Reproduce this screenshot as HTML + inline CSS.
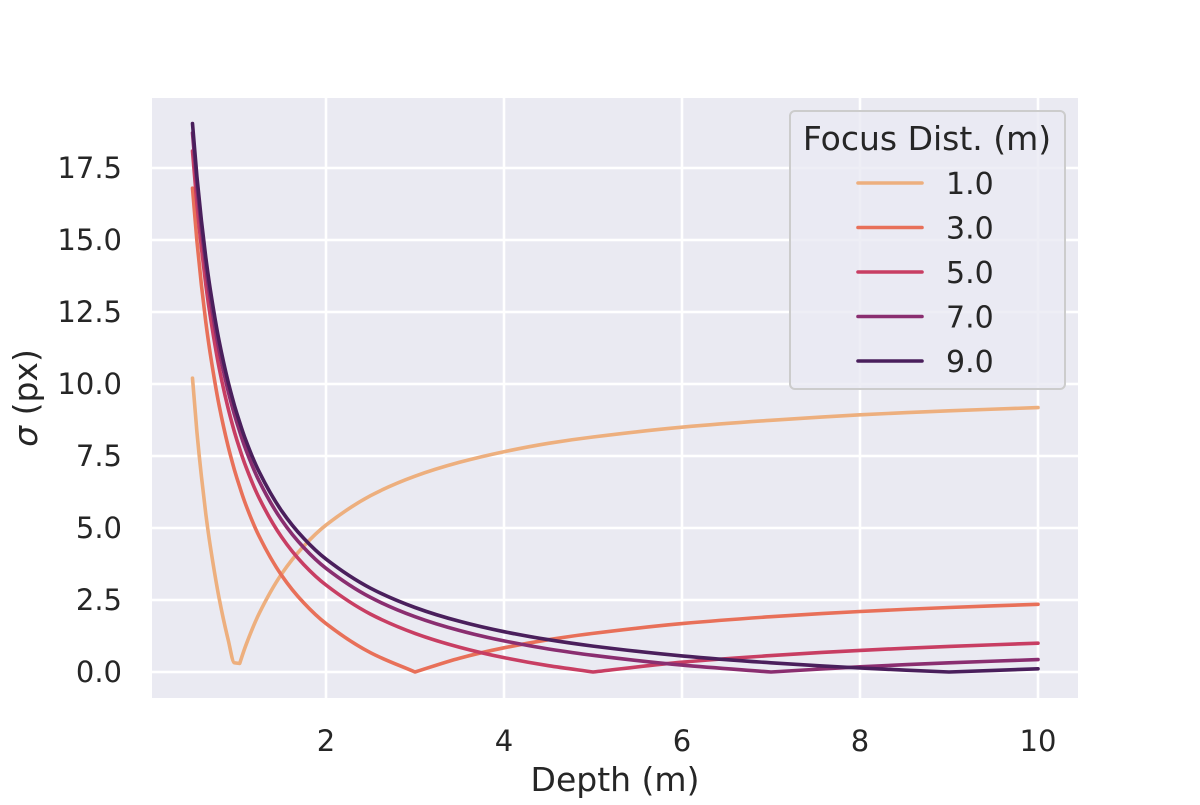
<!DOCTYPE html>
<html><head><meta charset="utf-8"><style>
body{margin:0;background:#fff;}
svg text{font-family:"DejaVu Sans","Liberation Sans",sans-serif;fill:#262626;}
</style></head><body>
<svg width="1200" height="800" xmlns="http://www.w3.org/2000/svg">
<rect x="152" y="98" width="926" height="600" fill="#eaeaf2"/>
<g id="grid"></g>
<g id="series"></g>
<g id="ticks"></g>
<text x="615" y="791" font-size="33" text-anchor="middle">Depth (m)</text>
<text transform="translate(37,398) rotate(-90)" font-size="33" text-anchor="middle"><tspan font-style="italic">σ</tspan> (px)</text>
<g>
<rect x="790" y="111" width="275" height="278" rx="5" fill="#eaeaf2" fill-opacity="0.8" stroke="#cccccc" stroke-width="2"/>
<text x="927" y="150" font-size="33" text-anchor="middle">Focus Dist. (m)</text>
<g id="legend-entries"></g>
</g>
</svg>
<script>
const depths=[0.5,0.55,0.6,0.65,0.7,0.8,0.9,0.97,1.03,1.1,1.25,1.5,1.75,2,2.5,3,3.5,4,4.5,5,6,7,8,9,10];
const s1=[10.2,8.34,6.8,5.49,4.37,2.55,1.13,0.32,0.30,0.93,2.04,3.4,4.37,5.1,6.12,6.8,7.28,7.65,7.94,8.16,8.5,8.74,8.93,9.07,9.18];
const s3=[16.8,14.97,13.44,12.15,11.04,9.24,7.84,7.03,6.43,5.80,4.70,3.36,2.40,1.68,0.67,0,0.48,0.84,1.12,1.34,1.68,1.92,2.10,2.24,2.35];
const s5=[18.09,16.26,14.74,13.45,12.35,10.55,9.16,8.35,7.75,7.13,6.03,4.69,3.73,3.02,2.01,1.34,0.86,0.50,0.22,0,0.34,0.57,0.75,0.89,1.0];
const s7=[18.72,16.89,15.36,14.07,12.96,11.16,9.76,8.95,8.35,7.72,6.62,5.28,4.32,3.6,2.59,1.92,1.44,1.08,0.80,0.58,0.24,0,0.18,0.32,0.43];
const s9=[19.04,17.21,15.68,14.39,13.28,11.48,10.08,9.27,8.67,8.04,6.94,5.6,4.64,3.92,2.91,2.24,1.76,1.4,1.12,0.9,0.56,0.32,0.14,0,0.11];
const seriesLabels=["1.0","3.0","5.0","7.0","9.0"];
const xTicks=[2,4,6,8,10];
const yTicks=[0,2.5,5,7.5,10,12.5,15,17.5];
const NS="http://www.w3.org/2000/svg";
const xs=v=>148+89*v;
const ys=v=>672-28.8*v;
const colors=["#edaf7e","#e87059","#c83e63","#8a2e70","#4a1f5c"];
const all=[s1,s3,s5,s7,s9];
function mk(t,a,p){const e=document.createElementNS(NS,t);for(const k in a)e.setAttribute(k,a[k]);p.appendChild(e);return e;}
// monotone cubic path; at extrema each side keeps its own segment slope (sharp V)
function monoPath(X,Y){
 const n=X.length,d=[];
 for(let i=0;i<n-1;i++)d.push((Y[i+1]-Y[i])/(X[i+1]-X[i]));
 const mIn=new Array(n),mOut=new Array(n);
 mOut[0]=d[0];mIn[n-1]=d[n-2];
 for(let i=1;i<n-1;i++){
  if(d[i-1]*d[i]<=0){mIn[i]=d[i-1];mOut[i]=d[i];}
  else{const m=2/(1/d[i-1]+1/d[i]);mIn[i]=m;mOut[i]=m;}
 }
 let s='M'+X[0].toFixed(1)+','+Y[0].toFixed(1);
 for(let i=0;i<n-1;i++){
  const h=X[i+1]-X[i];
  s+=' C'+(X[i]+h/3).toFixed(1)+','+(Y[i]+mOut[i]*h/3).toFixed(1)+' '+(X[i+1]-h/3).toFixed(1)+','+(Y[i+1]-mIn[i+1]*h/3).toFixed(1)+' '+X[i+1].toFixed(1)+','+Y[i+1].toFixed(1);
 }
 return s;
}
const grid=document.getElementById('grid'),ticks=document.getElementById('ticks');
xTicks.forEach(v=>{
 const l=mk('line',{x1:xs(v),x2:xs(v),y1:98,y2:698,stroke:'#fff','stroke-width':2.5},grid);
 
 
 const t=mk('text',{x:xs(v),y:751,'font-size':29,'text-anchor':'middle'},ticks);t.textContent=v;
 
 
});
yTicks.forEach(v=>{
 const l=mk('line',{x1:152,x2:1078,y1:ys(v),y2:ys(v),stroke:'#fff','stroke-width':2.5},grid);
 
 
 const t=mk('text',{x:122,y:ys(v)+10,'font-size':29,'text-anchor':'end'},ticks);t.textContent=v.toFixed(1);
 
 
});
const sg=document.getElementById('series');
all.forEach((s,i)=>{
 const X=depths.map(xs),Y=s.map(ys);
 const p=mk('path',{d:monoPath(X,Y),fill:'none',stroke:colors[i],'stroke-width':3.6,'stroke-linejoin':'round','stroke-linecap':'round'},sg);
 
 
});
const lg=document.getElementById('legend-entries');
seriesLabels.forEach((lab,i)=>{
 const y=183+44.5*i;
 const l=mk('line',{x1:858,x2:922,y1:y,y2:y,stroke:colors[i],'stroke-width':3.6,'stroke-linecap':'round'},lg);
 
 
 const t=mk('text',{x:946,y:y+11,'font-size':30},lg);t.textContent=lab;
 
 
});
</script>
</body></html>
